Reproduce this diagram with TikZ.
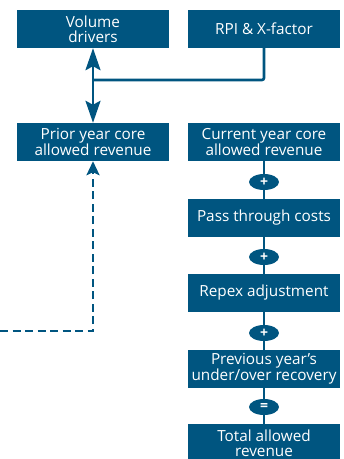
\documentclass[tikz,border=0pt]{standalone}
\usepackage{fontspec}
\setmainfont{Open Sans}
\usetikzlibrary{arrows.meta,shapes.geometric}

\definecolor{ofblue}{RGB}{0,85,128}

\tikzset{
  box/.style={fill=ofblue, text=white, minimum width=152pt, minimum height=38pt,
    inner sep=0pt, align=center, font=\fontsize{15.3pt}{15pt}\selectfont},
  oper/.style={ellipse, fill=ofblue, text=white, minimum width=30pt, minimum height=16pt,
    inner sep=0pt, font=\fontsize{14pt}{14pt}\selectfont\bfseries},
  link/.style={ofblue, line width=2.6pt},
  bigtip/.tip={Stealth[length=22pt,width=15pt,inset=4pt]},
}

\begin{document}
\begin{tikzpicture}[x=1pt, y=-1pt]
        \useasboundingbox (0,0) rectangle (344,459);

        % Top boxes
        \node[box] (vol) at (93,29) {Volume\\drivers};
        \node[box] (rpi) at (264,29) {RPI \& X-factor};

        % Left and right column
        \node[box] (prior) at (93,142) {Prior year core\\allowed revenue};
        \node[box] (current) at (264,142) {Current year core\\allowed revenue};
        \node[oper] (plusa) at (264,182) {+};
        \node[box] (pass) at (264,218) {Pass through costs};
        \node[oper] (plusb) at (264,257) {+};
        \node[box] (repex) at (264,293) {Repex adjustment};
        \node[oper] (plusc) at (264,333) {+};
        \node[box] (prev) at (264,369) {Previous year's\\under/over recovery};
        \node[oper] (equal) at (264,407) {=};
        \node[box] (total) at (264,443) {Total allowed\\revenue};

        % Connectors
        \coordinate (join) at (93,80);
        \coordinate (dashend) at (0,331);
        \draw[link, bigtip-bigtip] (vol) -- (prior);
        \draw[link, rounded corners=2pt] (rpi) |- (join);
        \draw[link, dash pattern=on 8pt off 4.5pt, -{Stealth[length=14pt,width=13pt,inset=3pt]}] (dashend) -| (prior.south);
        \draw[link] (current) -- (plusa) -- (pass) -- (plusb) -- (repex) -- (plusc) -- (prev) -- (equal) -- (total);
\end{tikzpicture}
\end{document}
